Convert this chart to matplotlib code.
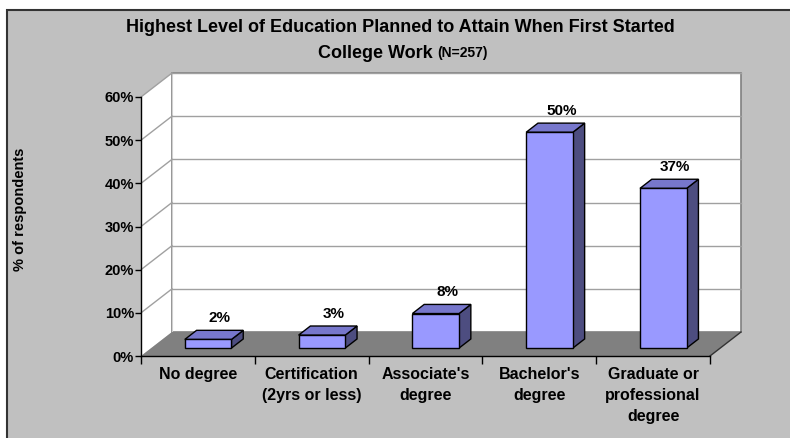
import matplotlib.pyplot as plt
from matplotlib.patches import Polygon, Rectangle

plt.rcParams["font.family"] = ["Liberation Sans", "DejaVu Sans"]

# chart data
categories = ["No degree", "Certification\n(2yrs or less)", "Associate's\ndegree",
              "Bachelor's\ndegree", "Graduate or\nprofessional\ndegree"]
percent = [2, 3, 8, 50, 37]
y_ticks = [0, 10, 20, 30, 40, 50, 60]

W, H = 790, 438
fig = plt.figure(figsize=(W / 100, H / 100), dpi=100)
fig.patch.set_facecolor("white")

# grey chart area with dark frame
fig.add_artist(Rectangle((7 / W, -0.02), 1.0, 1 - 10 / H + 0.02, transform=fig.transFigure,
                         facecolor="#c0c0c0", edgecolor="#333333", lw=1.5, zorder=0))

fig.text(400 / W, 1 - 27 / H, "Highest Level of Education Planned to Attain When First Started",
         ha="center", va="center", fontsize=13, fontweight="bold")
fig.text(433 / W, 1 - 53 / H, "College Work", ha="right", va="center",
         fontsize=13, fontweight="bold")
fig.text(437 / W, 1 - 53 / H, "(N=257)", ha="left", va="center",
         fontsize=10, fontweight="bold")
fig.text(20 / W, 1 - 209 / H, "% of respondents", rotation=90, ha="center", va="center",
         fontsize=10.5, fontweight="bold")

# front plane of the 3d box
ax = fig.add_axes([141 / W, 1 - 356 / H, 569 / W, 259 / H])
ax.set_xlim(0, len(categories))
ax.set_ylim(0, 60)
ax.patch.set_visible(False)

n = len(categories)
dx = 31 / 569 * n      # depth shift in category units
dy = 24 / 259 * 60     # depth shift in percent units


def shift(x, y, d):
    return (x + d * dx, y + d * dy)


grid_c = "#a0a0a0"
# walls and floor
ax.add_patch(Polygon([(0, 0), shift(0, 0, 1), shift(0, 60, 1), (0, 60)], closed=True,
                     facecolor="white", edgecolor="none", clip_on=False, zorder=0))
ax.add_patch(Polygon([shift(0, 0, 1), shift(n, 0, 1), shift(n, 60, 1), shift(0, 60, 1)],
                     closed=True, facecolor="white", edgecolor="#808080", lw=1.2,
                     clip_on=False, zorder=0))
ax.add_patch(Polygon([(0, 0), (n, 0), shift(n, 0, 1), shift(0, 0, 1)], closed=True,
                     facecolor="#808080", edgecolor="none", clip_on=False, zorder=1))
ax.plot([n, n + dx], [0, dy], color="#333333", lw=1, clip_on=False, zorder=1)
ax.plot([dx, dx], [dy, 60 + dy], color="#d0d0d0", lw=0.8, clip_on=False, zorder=0.5)
for v in y_ticks[1:]:
    ax.plot([dx, n + dx], [v + dy, v + dy], color=grid_c, lw=1, clip_on=False, zorder=0.5)
    ax.plot([0, dx], [v, v + dy], color=grid_c, lw=1, clip_on=False, zorder=0.5)

# bars
bw, d0, d1 = 0.41, 0.33, 0.71
for i, v in enumerate(percent):
    x0, x1 = i + 0.5 - bw / 2, i + 0.5 + bw / 2
    front = [shift(x0, 0, d0), shift(x1, 0, d0), shift(x1, v, d0), shift(x0, v, d0)]
    top = [shift(x0, v, d0), shift(x1, v, d0), shift(x1, v, d1), shift(x0, v, d1)]
    side = [shift(x1, 0, d0), shift(x1, 0, d1), shift(x1, v, d1), shift(x1, v, d0)]
    for pts, fc in ((side, "#4d4d80"), (top, "#7777cc"), (front, "#9999ff")):
        ax.add_patch(Polygon(pts, closed=True, facecolor=fc, edgecolor="black",
                             lw=1, joinstyle="miter", clip_on=False, zorder=2))
    ax.annotate(f"{v}%", xy=shift(i + 0.5, v, d1), xytext=(0, 9),
                textcoords="offset points", ha="center", va="center",
                fontsize=11, fontweight="bold")

# axes
for s in ("top", "right"):
    ax.spines[s].set_visible(False)
for s in ("left", "bottom"):
    ax.spines[s].set_color("black")
    ax.spines[s].set_linewidth(1)
    ax.spines[s].set_zorder(3)

ax.set_yticks(y_ticks)
ax.set_yticklabels([f"{v}%" for v in y_ticks], fontsize=10.5, fontweight="bold")
ax.tick_params(axis="y", direction="out", length=4, width=1, pad=1)

ax.set_xticks(range(n + 1))
ax.set_xticklabels([])
ax.set_xticks([i + 0.5 for i in range(n)], minor=True)
ax.set_xticklabels(categories, minor=True, fontsize=11.5, fontweight="bold", linespacing=1.5)
ax.tick_params(axis="x", which="major", direction="out", length=6, width=1)
ax.tick_params(axis="x", which="minor", length=0, pad=8)

fig.savefig("out.png", dpi=100)
